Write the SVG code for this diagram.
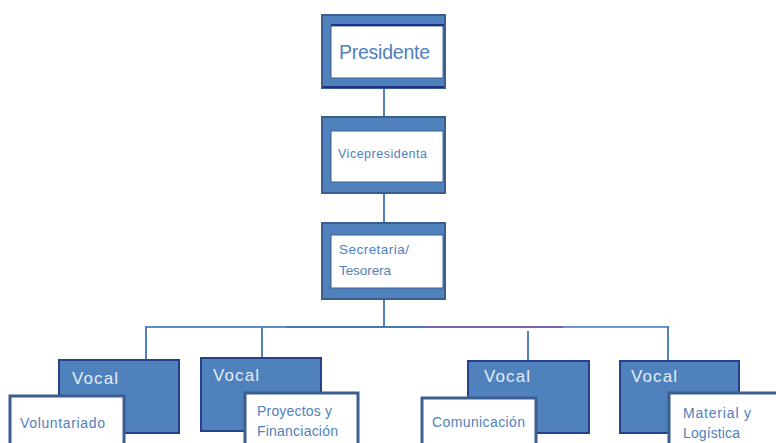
<svg xmlns="http://www.w3.org/2000/svg" width="776" height="443" viewBox="0 0 776 443">
<style>
.frame{fill:#4F81BD;stroke:#3A5F8F;stroke-width:2}
.inner{fill:#FFFFFF;stroke:#3A5F8F;stroke-width:1}
.navy{stroke:#1F2F86;stroke-width:2;fill:none}
.vocal{fill:#4F81BD;stroke:#23428A;stroke-width:2}
.sub{fill:#FFFFFF;stroke:#3C5E90;stroke-width:3}
.t{font-family:"Liberation Sans",Arial,sans-serif;fill:#4F81BD}
.vt{font-family:"Liberation Sans",Arial,sans-serif;fill:#E4ECF6;font-size:17px}
.c{stroke:#4F81BD;stroke-width:2;fill:none}
</style>
<g id="connectors">
<line class="c" x1="384" y1="88" x2="384" y2="117"/>
<line class="c" x1="384" y1="193" x2="384" y2="223"/>
<line class="c" x1="384" y1="299" x2="384" y2="327"/>
<line x1="146" y1="327" x2="286" y2="327" stroke="#5B8ECB" stroke-width="2"/>
<line x1="286" y1="327" x2="426" y2="327" stroke="#4878B8" stroke-width="2"/>
<line x1="426" y1="327" x2="563" y2="327" stroke="#7E62AE" stroke-width="2"/>
<line x1="563" y1="327" x2="669" y2="327" stroke="#6A98CF" stroke-width="2"/>
<line class="c" x1="146" y1="326" x2="146" y2="360"/>
<line class="c" x1="262" y1="327" x2="262" y2="358"/>
<line class="c" x1="528" y1="331" x2="528" y2="361"/>
<line class="c" x1="668" y1="326" x2="668" y2="361"/>
</g>
<g id="presidente">
<rect class="frame" x="322" y="15" width="123" height="73"/>
<rect class="inner" x="331" y="26" width="112" height="52"/>
<line class="navy" x1="331" y1="25" x2="444" y2="25"/>
<line class="navy" x1="323" y1="87" x2="444" y2="87"/>
<text class="t" x="339" y="59" font-size="19.5" textLength="91">Presidente</text>
</g>
<g id="vicepresidenta">
<rect class="frame" x="322" y="117" width="123" height="76"/>
<rect class="inner" x="331" y="131" width="112" height="51"/>
<text class="t" x="338" y="158" font-size="12.5" textLength="89">Vicepresidenta</text>
</g>
<g id="secretaria">
<rect class="frame" x="322" y="223" width="123" height="76"/>
<rect class="inner" x="331" y="235" width="112" height="53"/>
<text class="t" x="339" y="254" font-size="13.5" textLength="70">Secretaria/</text>
<text class="t" x="339" y="275" font-size="13.5" textLength="52">Tesorera</text>
</g>
<g id="vocal1">
<rect class="vocal" x="59" y="360" width="120" height="73"/>
<text class="vt" x="72" y="384" textLength="46">Vocal</text>
<rect class="sub" x="10" y="396" width="114" height="52"/>
<text class="t" x="20" y="428" font-size="14" textLength="85">Voluntariado</text>
</g>
<g id="vocal2">
<rect class="vocal" x="201" y="358" width="120" height="73"/>
<text class="vt" x="213" y="381" textLength="46">Vocal</text>
<rect class="sub" x="245" y="393" width="113" height="55"/>
<text class="t" x="257" y="416" font-size="14" textLength="75">Proyectos y</text>
<text class="t" x="257" y="436" font-size="14" textLength="81">Financiación</text>
</g>
<g id="vocal3">
<rect class="vocal" x="468" y="361" width="121" height="72"/>
<text class="vt" x="484" y="382" textLength="46">Vocal</text>
<rect class="sub" x="422" y="398" width="114" height="50"/>
<text class="t" x="432" y="427" font-size="14" textLength="93">Comunicación</text>
</g>
<g id="vocal4">
<rect class="vocal" x="620" y="361" width="119" height="72"/>
<text class="vt" x="631" y="382" textLength="46">Vocal</text>
<rect class="sub" x="669" y="393" width="115" height="55"/>
<text class="t" x="683" y="418" font-size="14" textLength="68">Material y</text>
<text class="t" x="683" y="438" font-size="14" textLength="57">Logística</text>
</g>
</svg>
